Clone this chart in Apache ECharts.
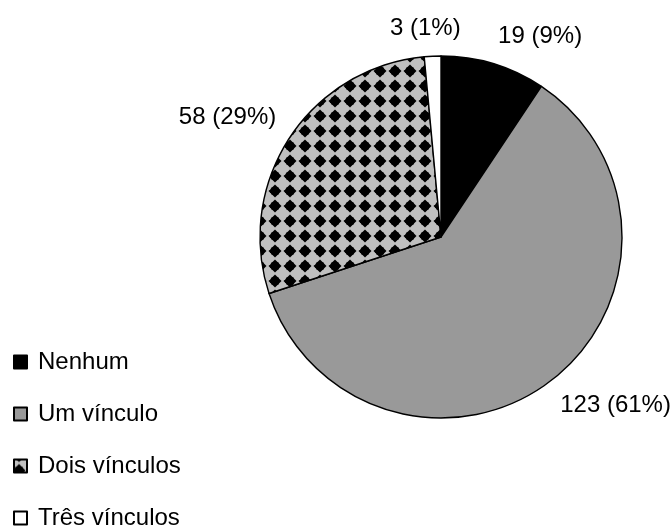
<!DOCTYPE html>
<html>
<head>
<meta charset="utf-8">
<script src="https://cdn.jsdelivr.net/npm/echarts@6/dist/echarts.min.js"></script>
<style>
html,body{margin:0;padding:0;background:#fff;}
#chart{width:671px;height:528px;}
</style>
</head>
<body>
<div id="chart"></div>
<script>
// ---- data ----
const categories = ['Nenhum', 'Um vínculo', 'Dois vínculos', 'Três vínculos'];
const values = [19, 123, 58, 3];

// ---- styling helpers ----
function makeDiamondPattern() {
  const s = 15;
  const c = document.createElement('canvas');
  c.width = s; c.height = s;
  const g = c.getContext('2d');
  g.fillStyle = '#c0c0c0';
  g.fillRect(0, 0, s, s);
  g.fillStyle = '#000';
  const cx0 = 5, cy0 = 11;
  for (const ox of [-s, 0, s]) {
    for (const oy of [-s, 0, s]) {
      const x = cx0 + ox, y = cy0 + oy;
      g.beginPath();
      g.moveTo(x, y - 6.5);
      g.lineTo(x + 6.5, y);
      g.lineTo(x, y + 6.5);
      g.lineTo(x - 6.5, y);
      g.closePath();
      g.fill();
      g.beginPath();
      g.arc(x, y, 4.3, 0, Math.PI * 2);
      g.fill();
      g.fillRect(x - 3.6, y - 3.6, 7.2, 7.2);
    }
  }
  return c;
}

const fills = ['#000000', '#999999', { image: makeDiamondPattern(), repeat: 'repeat' }, '#ffffff'];

const CX = 441, CY = 237, R = 181, GAP = 16;
const total = values.reduce((a, b) => a + b, 0);
function midAngle(i) {
  let acc = 0;
  for (let k = 0; k < i; k++) acc += values[k];
  return (acc + values[i] / 2) / total * 2 * Math.PI; // clockwise from 12 o'clock
}
function clamp(v) { return Math.max(-1, Math.min(1, v)); }

const chart = echarts.init(document.getElementById('chart'), null, { renderer: 'canvas' });
chart.setOption({
  animation: false,
  backgroundColor: '#ffffff',
  textStyle: { fontFamily: 'Liberation Sans, Arial, sans-serif' },
  legend: {
    orient: 'vertical',
    left: 8,
    top: 345,
    height: 183,
    itemWidth: 13,
    itemHeight: 13,
    itemGap: 28,
    icon: 'rect',
    selectedMode: false,
    data: categories,
    textStyle: {
      fontSize: 24,
      color: '#000',
      fontFamily: 'Liberation Sans, Arial, sans-serif',
      padding: [0, 0, 0, 6]
    }
  },
  series: [{
    type: 'pie',
    center: [CX, CY],
    radius: R,
    startAngle: 90,
    clockwise: true,
    percentPrecision: 0,
    avoidLabelOverlap: false,
    silent: true,
    emphasis: { disabled: true },
    itemStyle: { borderColor: '#000', borderWidth: 1.4 },
    label: {
      show: true,
      position: 'outside',
      formatter: '{c} ({d}%)',
      fontSize: 24,
      color: '#000',
      fontFamily: 'Liberation Sans, Arial, sans-serif'
    },
    labelLine: { show: false },
    labelLayout: function (params) {
      const a = midAngle(params.dataIndex);
      const ux = Math.sin(a), uy = -Math.cos(a);
      const D = R + GAP;
      const w = params.labelRect.width, h = params.labelRect.height;
      const x = CX + D * ux + (w / 2) * clamp(ux * 4);
      const y = CY + D * uy + (h / 2) * clamp(uy * 4);
      return { x: x, y: y, align: 'center', verticalAlign: 'middle' };
    },
    data: categories.map((name, i) => ({
      name: name,
      value: values[i],
      itemStyle: { color: fills[i] }
    }))
  }]
});
</script>
</body>
</html>
